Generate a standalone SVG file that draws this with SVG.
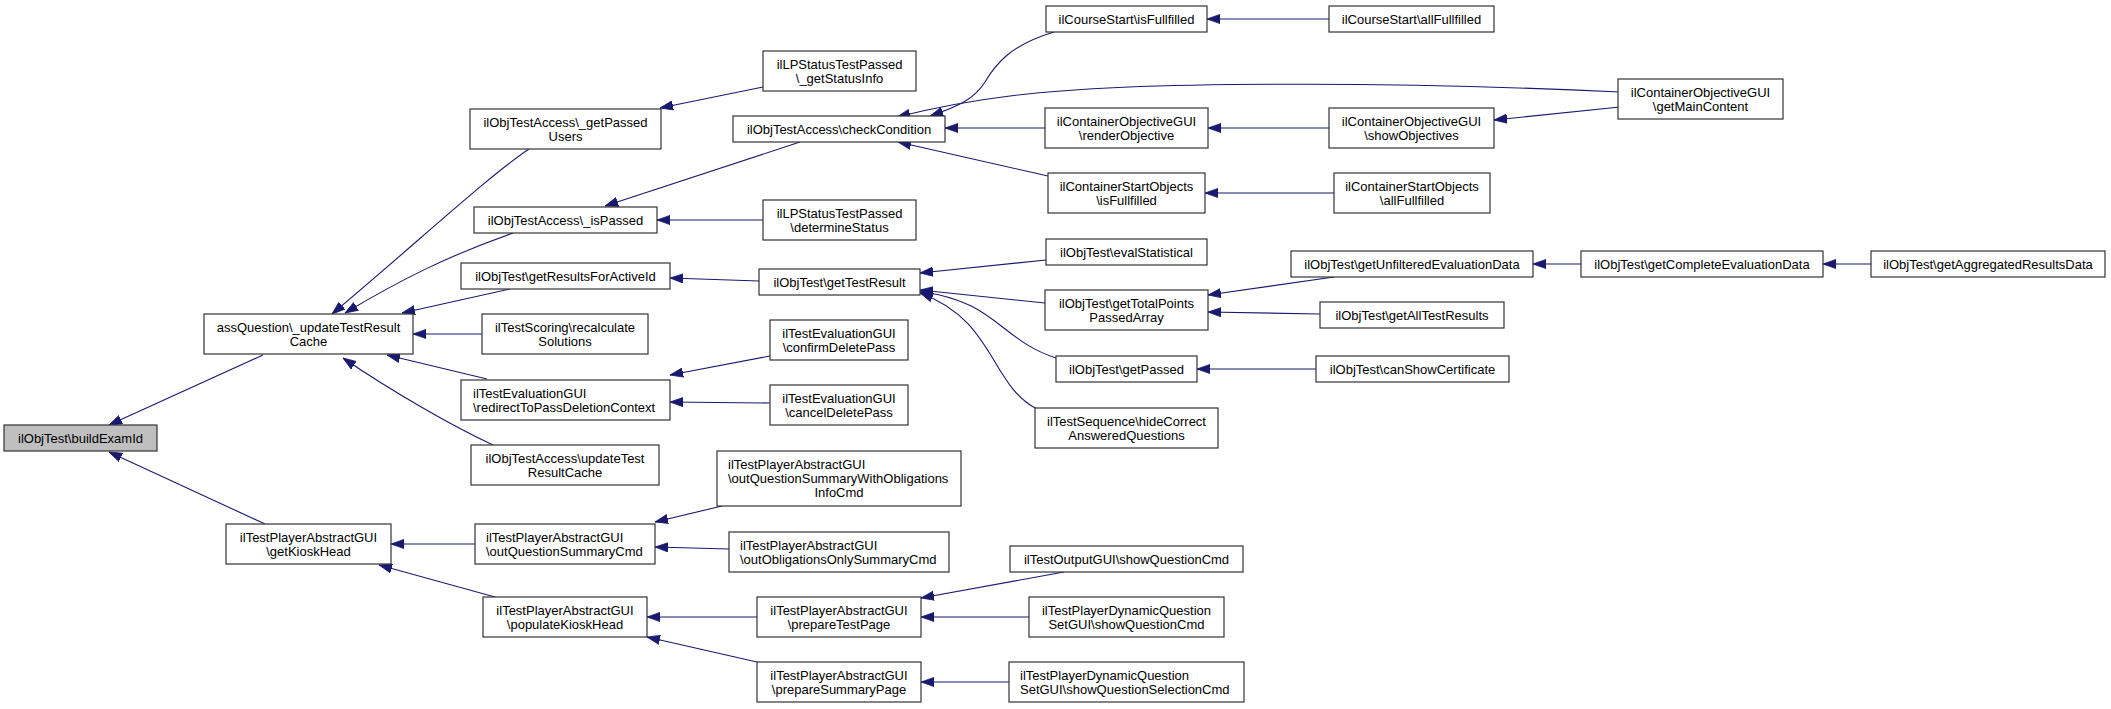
<svg xmlns="http://www.w3.org/2000/svg" width="2111" height="709" viewBox="0 0 2111 709">
<defs>
<style>
.n rect{fill:#ffffff;stroke:#333333;stroke-width:1.2}
.n rect.root{fill:#bfbfbf}
text{font-family:"Liberation Sans",Arial,Helvetica,sans-serif;font-size:13px;fill:#000000;text-anchor:middle}
text.l{text-anchor:start}
#edges path{fill:none;stroke:#191970;stroke-width:1.1;marker-end:url(#arr)}
</style>
<marker id="arr" viewBox="0 0 13 10" refX="13" refY="5" markerWidth="13" markerHeight="10" markerUnits="userSpaceOnUse" orient="auto">
<path d="M0,0.4 L13,5 L0,9.6 z" fill="#191970" stroke="#191970" stroke-width="0.8"/>
</marker>
</defs>
<rect x="0" y="0" width="2111" height="709" fill="#ffffff"/>
<g id="edges">
<path d="M263,355 L109,425"/>
<path d="M265,524 L109,452"/>
<path d="M529,149 C490,175 420,240 332,314"/>
<path d="M513,233 C450,255 400,280 345,313"/>
<path d="M510,289 L402,313"/>
<path d="M482,334 L413,334"/>
<path d="M487,379 L387,355"/>
<path d="M493,445 C450,425 390,390 343,358"/>
<path d="M475,544 L391,544"/>
<path d="M495,597 L379,565"/>
<path d="M763,87 L660,108"/>
<path d="M800,142 L605,206"/>
<path d="M763,220 L657,220"/>
<path d="M759,281 L670,278"/>
<path d="M770,356 L670,375"/>
<path d="M770,403 L670,402"/>
<path d="M722,506 L655,522"/>
<path d="M729,549 L655,547"/>
<path d="M757,617 L647,617"/>
<path d="M757,662 L647,637"/>
<path d="M1054,32 C1010,45 995,65 985,82 C975,98 960,106 930,116"/>
<path d="M1620,92 C1450,84 1150,78 1010,96 C960,102 925,110 897,117"/>
<path d="M1045,128 L945,128"/>
<path d="M1048,176 L898,142"/>
<path d="M1046,260 L920,273"/>
<path d="M1045,303 L920,290"/>
<path d="M1056,358 C1000,340 995,300 920,292"/>
<path d="M1037,409 C990,385 995,320 920,293"/>
<path d="M1329,19 L1207,19"/>
<path d="M1329,128 L1208,128"/>
<path d="M1620,107 L1494,120"/>
<path d="M1334,193 L1205,193"/>
<path d="M1334,277 L1208,295"/>
<path d="M1320,314 L1208,312"/>
<path d="M1316,369 L1197,369"/>
<path d="M1581,264 L1533,264"/>
<path d="M1871,264 L1823,264"/>
<path d="M1064,572 L921,598"/>
<path d="M1029,617 L921,617"/>
<path d="M1009,682 L921,682"/>
</g>
<g id="n0" class="n"><rect class="root" x="4" y="425" width="153" height="26"/><text x="80.5" y="442.5">ilObjTest\buildExamId</text></g>
<g id="n1" class="n"><rect x="204" y="314" width="209" height="40"/><text x="308.5" y="331.5">assQuestion\_updateTestResult</text><text x="308.5" y="345.5">Cache</text></g>
<g id="n2" class="n"><rect x="226" y="524" width="165" height="40"/><text x="308.5" y="541.5">ilTestPlayerAbstractGUI</text><text x="308.5" y="555.5">\getKioskHead</text></g>
<g id="n3" class="n"><rect x="470" y="109" width="191" height="40"/><text x="565.5" y="126.5">ilObjTestAccess\_getPassed</text><text x="565.5" y="140.5">Users</text></g>
<g id="n4" class="n"><rect x="474" y="207" width="183" height="26"/><text x="565.5" y="224.5">ilObjTestAccess\_isPassed</text></g>
<g id="n5" class="n"><rect x="461" y="263" width="209" height="26"/><text x="565.5" y="280.5">ilObjTest\getResultsForActiveId</text></g>
<g id="n6" class="n"><rect x="482" y="314" width="166" height="40"/><text x="565" y="331.5">ilTestScoring\recalculate</text><text x="565" y="345.5">Solutions</text></g>
<g id="n7" class="n"><rect x="461" y="380" width="209" height="40"/><text class="l" x="473" y="397.5">ilTestEvaluationGUI</text><text class="l" x="473" y="411.5">\redirectToPassDeletionContext</text></g>
<g id="n8" class="n"><rect x="471" y="445" width="188" height="40"/><text x="565" y="462.5">ilObjTestAccess\updateTest</text><text x="565" y="476.5">ResultCache</text></g>
<g id="n9" class="n"><rect x="475" y="524" width="180" height="40"/><text class="l" x="486" y="541.5">ilTestPlayerAbstractGUI</text><text class="l" x="486" y="555.5">\outQuestionSummaryCmd</text></g>
<g id="n10" class="n"><rect x="483" y="597" width="164" height="40"/><text x="565" y="614.5">ilTestPlayerAbstractGUI</text><text x="565" y="628.5">\populateKioskHead</text></g>
<g id="n11" class="n"><rect x="763" y="51" width="153" height="40"/><text x="839.5" y="68.5">ilLPStatusTestPassed</text><text x="839.5" y="82.5">\_getStatusInfo</text></g>
<g id="n12" class="n"><rect x="733" y="116" width="212" height="26"/><text x="839" y="133.5">ilObjTestAccess\checkCondition</text></g>
<g id="n13" class="n"><rect x="763" y="200" width="153" height="40"/><text x="839.5" y="217.5">ilLPStatusTestPassed</text><text x="839.5" y="231.5">\determineStatus</text></g>
<g id="n14" class="n"><rect x="759" y="269" width="161" height="26"/><text x="839.5" y="286.5">ilObjTest\getTestResult</text></g>
<g id="n15" class="n"><rect x="770" y="320" width="138" height="40"/><text x="839" y="337.5">ilTestEvaluationGUI</text><text x="839" y="351.5">\confirmDeletePass</text></g>
<g id="n16" class="n"><rect x="770" y="385" width="138" height="40"/><text x="839" y="402.5">ilTestEvaluationGUI</text><text x="839" y="416.5">\cancelDeletePass</text></g>
<g id="n17" class="n"><rect x="717" y="451" width="244" height="55"/><text class="l" x="728" y="469">ilTestPlayerAbstractGUI</text><text class="l" x="728" y="483">\outQuestionSummaryWithObligations</text><text x="839" y="497">InfoCmd</text></g>
<g id="n18" class="n"><rect x="729" y="532" width="220" height="40"/><text class="l" x="740" y="549.5">ilTestPlayerAbstractGUI</text><text class="l" x="740" y="563.5">\outObligationsOnlySummaryCmd</text></g>
<g id="n19" class="n"><rect x="757" y="597" width="164" height="40"/><text x="839" y="614.5">ilTestPlayerAbstractGUI</text><text x="839" y="628.5">\prepareTestPage</text></g>
<g id="n20" class="n"><rect x="757" y="662" width="164" height="40"/><text x="839" y="679.5">ilTestPlayerAbstractGUI</text><text x="839" y="693.5">\prepareSummaryPage</text></g>
<g id="n21" class="n"><rect x="1046" y="6" width="161" height="26"/><text x="1126.5" y="23.5">ilCourseStart\isFullfilled</text></g>
<g id="n22" class="n"><rect x="1045" y="108" width="163" height="40"/><text x="1126.5" y="125.5">ilContainerObjectiveGUI</text><text x="1126.5" y="139.5">\renderObjective</text></g>
<g id="n23" class="n"><rect x="1048" y="173" width="157" height="40"/><text x="1126.5" y="190.5">ilContainerStartObjects</text><text x="1126.5" y="204.5">\isFullfilled</text></g>
<g id="n24" class="n"><rect x="1046" y="239" width="161" height="26"/><text x="1126.5" y="256.5">ilObjTest\evalStatistical</text></g>
<g id="n25" class="n"><rect x="1045" y="290" width="163" height="40"/><text x="1126.5" y="307.5">ilObjTest\getTotalPoints</text><text x="1126.5" y="321.5">PassedArray</text></g>
<g id="n26" class="n"><rect x="1056" y="356" width="141" height="26"/><text x="1126.5" y="373.5">ilObjTest\getPassed</text></g>
<g id="n27" class="n"><rect x="1035" y="408" width="183" height="40"/><text x="1126.5" y="425.5">ilTestSequence\hideCorrect</text><text x="1126.5" y="439.5">AnsweredQuestions</text></g>
<g id="n28" class="n"><rect x="1010" y="546" width="233" height="26"/><text x="1126.5" y="563.5">ilTestOutputGUI\showQuestionCmd</text></g>
<g id="n29" class="n"><rect x="1029" y="597" width="195" height="40"/><text x="1126.5" y="614.5">ilTestPlayerDynamicQuestion</text><text x="1126.5" y="628.5">SetGUI\showQuestionCmd</text></g>
<g id="n30" class="n"><rect x="1009" y="662" width="235" height="40"/><text class="l" x="1020" y="679.5">ilTestPlayerDynamicQuestion</text><text class="l" x="1020" y="693.5">SetGUI\showQuestionSelectionCmd</text></g>
<g id="n31" class="n"><rect x="1329" y="6" width="165" height="26"/><text x="1411.5" y="23.5">ilCourseStart\allFullfilled</text></g>
<g id="n32" class="n"><rect x="1329" y="108" width="165" height="40"/><text x="1411.5" y="125.5">ilContainerObjectiveGUI</text><text x="1411.5" y="139.5">\showObjectives</text></g>
<g id="n33" class="n"><rect x="1334" y="173" width="156" height="40"/><text x="1412" y="190.5">ilContainerStartObjects</text><text x="1412" y="204.5">\allFullfilled</text></g>
<g id="n34" class="n"><rect x="1291" y="251" width="242" height="26"/><text x="1412" y="268.5">ilObjTest\getUnfilteredEvaluationData</text></g>
<g id="n35" class="n"><rect x="1320" y="302" width="184" height="26"/><text x="1412" y="319.5">ilObjTest\getAllTestResults</text></g>
<g id="n36" class="n"><rect x="1316" y="356" width="193" height="26"/><text x="1412.5" y="373.5">ilObjTest\canShowCertificate</text></g>
<g id="n37" class="n"><rect x="1618" y="79" width="165" height="40"/><text x="1700.5" y="96.5">ilContainerObjectiveGUI</text><text x="1700.5" y="110.5">\getMainContent</text></g>
<g id="n38" class="n"><rect x="1581" y="251" width="242" height="26"/><text x="1702" y="268.5">ilObjTest\getCompleteEvaluationData</text></g>
<g id="n39" class="n"><rect x="1871" y="251" width="234" height="26"/><text x="1988" y="268.5">ilObjTest\getAggregatedResultsData</text></g>
</svg>
